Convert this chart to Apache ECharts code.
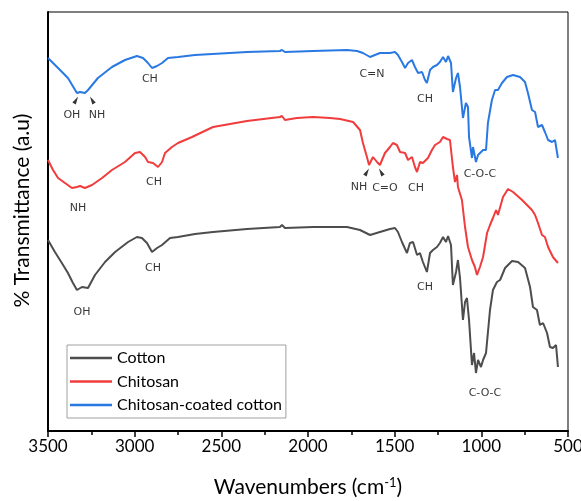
<!DOCTYPE html>
<html>
<head>
<meta charset="utf-8">
<script src="https://cdn.jsdelivr.net/npm/echarts/dist/echarts.min.js"></script>
<style>
  html, body { margin: 0; padding: 0; background: #fff; }
  #chart { width: 581px; height: 501px; }
</style>
</head>
<body>
<div id="chart"></div>
<script>
// FTIR spectra: [wavenumber (cm-1), transmittance (a.u., offset per trace)]
const cotton = [
  [3500,191],[3460,179],[3413,166],[3385,158],[3356,148],[3333,141],[3304,144],[3269,143],
  [3229,156],[3171,169],[3113,179],[3038,189],[2987,194],[2958,193],[2929,188],[2900,179],
  [2871,183],[2842,186],[2796,193],[2750,194],[2652,197],[2548,199],[2352,202],[2162,204],
  [2150,206],[2133,203],[1971,204],[1775,204],[1700,201],[1642,196],[1585,199],[1527,202],
  [1498,203],[1481,199],[1458,189],[1429,178],[1412,188],[1394,189],[1371,176],[1354,178],
  [1337,169],[1314,159],[1296,178],[1279,181],[1256,184],[1239,188],[1221,194],[1204,189],
  [1192,195],[1175,186],[1164,146],[1146,159],[1135,171],[1123,153],[1106,111],[1094,129],
  [1083,133],[1071,111],[1054,66],[1042,78],[1031,58],[1019,71],[1002,64],[990,71],
  [973,78],[950,121],[933,141],[910,149],[892,151],[863,163],[823,170],[788,169],
  [748,163],[719,144],[702,124],[679,121],[662,106],[644,108],[621,98],[604,84],
  [587,83],[569,86],[558,64]
];

const chitosan = [
  [3500,271],[3471,261],[3442,253],[3402,248],[3362,243],[3333,244],[3315,245],[3287,243],
  [3246,246],[3188,253],[3131,261],[3056,269],[2998,278],[2969,279],[2940,274],[2923,269],
  [2894,268],[2865,264],[2842,269],[2825,278],[2785,284],[2750,288],[2669,294],[2548,304],
  [2352,310],[2162,314],[2150,315],[2133,311],[2064,313],[1971,314],[1873,313],[1815,312],
  [1740,309],[1700,301],[1683,288],[1660,274],[1648,266],[1625,274],[1602,269],[1585,266],
  [1556,278],[1527,284],[1510,288],[1487,286],[1469,279],[1440,278],[1423,271],[1400,274],
  [1383,264],[1371,259],[1354,269],[1337,268],[1308,273],[1285,281],[1267,286],[1239,289],
  [1221,294],[1198,292],[1181,291],[1164,264],[1152,249],[1140,256],[1135,244],[1112,231],
  [1094,204],[1077,184],[1054,171],[1037,164],[1025,156],[1008,164],[990,174],[967,198],
  [950,206],[933,213],[915,221],[904,216],[875,234],[846,242],[817,239],[765,231],
  [708,221],[690,216],[673,208],[650,196],[633,194],[615,184],[587,174],[558,168]
];

const coatedCotton = [
  [3500,373],[3442,363],[3385,353],[3333,338],[3315,339],[3287,338],[3269,341],[3212,353],
  [3131,364],[3056,371],[2987,375],[2952,373],[2923,368],[2900,363],[2871,365],[2842,368],
  [2808,373],[2750,374],[2652,376],[2352,379],[2162,380],[2150,381],[2133,379],[1971,380],
  [1775,381],[1717,380],[1683,378],[1642,374],[1614,376],[1585,378],[1527,378],[1498,379],
  [1481,376],[1458,369],[1440,363],[1423,368],[1400,371],[1383,364],[1365,358],[1342,359],
  [1325,351],[1314,348],[1296,361],[1279,364],[1256,366],[1239,369],[1221,374],[1204,369],
  [1192,375],[1175,368],[1164,339],[1146,353],[1135,358],[1123,344],[1106,313],[1089,328],
  [1077,324],[1071,294],[1054,273],[1048,284],[1031,269],[1019,276],[1008,274],[990,281],
  [973,281],[962,308],[939,331],[921,341],[904,341],[881,348],[852,354],[817,356],
  [777,354],[748,349],[731,338],[708,321],[690,319],[673,304],[650,306],[633,299],
  [615,291],[592,289],[575,291],[558,273]
];

// Band assignments: [wavenumber, transmittance, label]
const bandLabels = [
  [3362,316,'OH'],[3217,316,'NH'],[2912,352,'CH'],[1631,357,'C=N'],[1325,332,'CH'],[1008,257,'C-O-C'],
  [3327,223,'NH'],[2888,249,'CH'],[1706,244,'NH'],[1556,243,'C=O'],[1377,243,'CH'],
  [2894,163,'CH'],[3304,119,'OH'],[1325,144,'CH'],[979,38,'C-O-C']
];

// Pointer wedges: [wavenumber, transmittance, rotation in degrees]
const pointers = [
  [3338,331,-30],[3246,331,30],[1660,259,-30],[1579,259,30]
];

const seriesNames = ['Cotton', 'Chitosan', 'Chitosan-coated cotton'];
const COLORS = { cotton: '#4d4d4d', chitosan: '#f03c3c', coated: '#2a79e3' };
const UI_FONT = 'Lato, "Open Sans", sans-serif';

const chart = echarts.init(document.getElementById('chart'), null, { renderer: 'canvas' });

function spectrum(name, data, color) {
  return {
    name, type: 'line', data, symbol: 'none', showSymbol: false,
    lineStyle: { width: 2, color }, itemStyle: { color },
    silent: true, z: 3
  };
}

chart.setOption({
  animation: false,
  backgroundColor: '#fff',
  grid: {
    left: 48, right: 13, top: 12, bottom: 70,
    containLabel: false, outerBoundsMode: 'none',
    show: true, borderColor: '#000', borderWidth: 1
  },
  xAxis: {
    type: 'value', min: 500, max: 3500, interval: 500, inverse: true,
    axisLine: { show: true, lineStyle: { color: '#000', width: 2 } },
    axisTick: { show: true, length: 6, lineStyle: { color: '#000', width: 1.5 } },
    minorTick: { show: true, splitNumber: 2, length: 4, lineStyle: { color: '#000', width: 1.5 } },
    splitLine: { show: false },
    axisLabel: { color: '#000', fontSize: 17, fontFamily: UI_FONT, margin: 7, formatter: v => String(v) },
    name: 'Wavenumbers (cm{sup|-1})',
    nameLocation: 'middle', nameGap: 45,
    nameTextStyle: {
      color: '#000', fontSize: 21, fontFamily: UI_FONT,
      rich: { sup: { fontSize: 13, verticalAlign: 'top', padding: [0, 0, 9, 0], fontFamily: UI_FONT, color: '#000' } }
    }
  },
  yAxis: {
    type: 'value', min: 0, max: 419,
    axisLine: { show: true, lineStyle: { color: '#000', width: 2 } },
    axisTick: { show: false }, axisLabel: { show: false }, splitLine: { show: false },
    name: '% Transmittance (a.u)', nameLocation: 'middle', nameGap: 15,
    nameTextStyle: { color: '#000', fontSize: 21, fontFamily: UI_FONT, padding: [0, 0, 0, 22] }
  },
  legend: {
    data: seriesNames.map(n => ({ name: n, icon: 'rect' })),
    orient: 'vertical', left: 67, top: 345,
    itemWidth: 42, itemHeight: 2.5, itemGap: 7.5, itemTextGap: 4,
    padding: [5, 4, 5, 3],
    borderColor: '#a0a0a0', borderWidth: 1, backgroundColor: '#fff',
    textStyle: { color: '#000', fontSize: 16, fontFamily: UI_FONT },
    selectedMode: false
  },
  series: [
    spectrum('Cotton', cotton, COLORS.cotton),
    spectrum('Chitosan', chitosan, COLORS.chitosan),
    spectrum('Chitosan-coated cotton', coatedCotton, COLORS.coated),
    {
      name: 'bands', type: 'scatter', silent: true, symbolSize: 0, z: 5,
      data: bandLabels.map(d => ({ value: [d[0], d[1]], name: d[2] })),
      label: {
        show: true, position: 'inside', formatter: '{b}',
        color: '#000', fontSize: 11, fontFamily: '"DejaVu Sans", sans-serif'
      }
    },
    {
      name: 'pointers', type: 'scatter', silent: true, symbol: 'triangle', symbolSize: [4, 8], z: 5,
      itemStyle: { color: '#000' },
      data: pointers.map(d => ({ value: [d[0], d[1]], symbolRotate: d[2] }))
    }
  ]
});
</script>
</body>
</html>
